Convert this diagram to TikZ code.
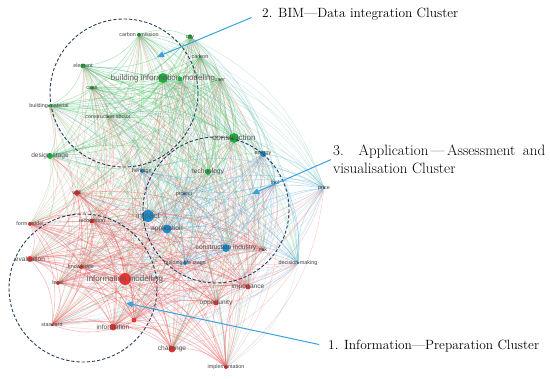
\documentclass[tikz,border=0pt]{standalone}
\usepackage{fontspec}
\newfontfamily\netfont{Liberation Sans}
\usetikzlibrary{arrows.meta}

\definecolor{vgreen}{RGB}{30,176,62}
\definecolor{vblue}{RGB}{26,140,204}
\definecolor{vred}{RGB}{234,52,50}
\definecolor{callblue}{RGB}{58,160,222}
\definecolor{ringnavy}{RGB}{40,62,92}

\pgfdeclarelayer{back}
\pgfsetlayers{back,main}

% every term with the style of its links
\def\netlist{carbem/gedge, city/gedge, carbon/gedge, bim/gedge, gsmall/gedge,
  user/gedge, element/gedge, case/gedge, bmat/gedge, csector/gedge, constr/gedge,
  dstage/gedge, tech/gedge, energy/bedge, tool/bedge, heritage/bedge,
  project/bedge, impact/bedge, appl/bedge, cind/bedge, bls/bedge, dmaking/bedge,
  price/bedge, wall/redge, fmodel/redge, recog/redge, eval/redge, knowl/redge,
  level/redge, infomod/redge, rsmall/redge, standard/redge, info/redge,
  chall/redge, impl/redge, opp/redge, importance/redge, risk/redge}

\begin{document}
\begin{tikzpicture}[x=1pt, y=-1pt,
    vnode/.style={circle, inner sep=0pt, minimum size=#1},
    gdot/.style={vnode=#1, fill=vgreen},
    bdot/.style={vnode=#1, fill=vblue},
    rdot/.style={vnode=#1, fill=vred},
    word/.style={font=\netfont\fontsize{5.4}{6}\selectfont, text=black!75, inner sep=0pt},
    midword/.style={font=\netfont\fontsize{6.6}{7}\selectfont, text=black!70, inner sep=0pt},
    bigword/.style={font=\netfont\fontsize{8}{9}\selectfont, text=black!65, inner sep=0pt},
    gedge/.style={draw=vgreen!75, opacity=0.28, line width=0.5pt},
    bedge/.style={draw=vblue!70, opacity=0.25, line width=0.5pt},
    redge/.style={draw=vred!80, opacity=0.28, line width=0.5pt},
    inner/.style={opacity=0.42, line width=0.6pt},
    ring/.style={draw=ringnavy, line width=0.9pt, dash pattern=on 3.2pt off 2pt},
    call/.style={draw=callblue, line width=1pt, -{Triangle[length=7pt,width=6pt]}},
    cluster/.style={font=\fontsize{13.4}{18}\selectfont, inner sep=2pt}]

\useasboundingbox (0,0) rectangle (550,379);

% green cluster
\node[gdot=4pt, label={[word]center:carbon emission}] (carbem) at (139,35) {};
\node[gdot=5pt, label={[word]center:city}] (city) at (190,37) {};
\node[gdot=3pt, label={[word]center:carbon}] (carbon) at (200,57) {};
\node[gdot=10pt, label={[bigword]center:building information modeling}] (bim) at (163,78) {};
\node[gdot=5pt] (gsmall) at (180,79) {};
\node[gdot=3pt, label={[word]center:user}] (user) at (220,80) {};
\node[gdot=5pt, label={[word]center:element}] (element) at (83,66) {};
\node[gdot=4pt, label={[word]center:case}] (case) at (92,88) {};
\node[gdot=3pt, label={[word]center:building material}] (bmat) at (49,106) {};
\node[gdot=3pt, label={[word]center:construction sector}] (csector) at (108,117) {};
\node[gdot=10pt, label={[bigword]center:construction}] (constr) at (234,138) {};
\node[gdot=6pt, label={[midword]center:design stage}] (dstage) at (50,156) {};
\node[gdot=6pt, label={[midword]center:technology}] (tech) at (208,172) {};

% blue cluster
\node[bdot=6pt, label={[word]center:energy}] (energy) at (263,154) {};
\node[bdot=3pt, label={[word]center:tool}] (tool) at (275,183) {};
\node[bdot=4pt, label={[word]center:heritage}] (heritage) at (142,171) {};
\node[bdot=3pt, label={[word]center:project}] (project) at (184,194) {};
\node[bdot=12pt, label={[bigword]center:impact}] (impact) at (148,216) {};
\node[bdot=9pt, label={[midword]center:application}] (appl) at (167,229) {};
\node[bdot=8pt, label={[midword]center:construction industry}] (cind) at (226,248) {};
\node[bdot=4pt, label={[word]center:building life stage}] (bls) at (185,263) {};
\node[bdot=3pt, label={[word]center:decision making}] (dmaking) at (298,263) {};
\node[bdot=3pt, label={[word]center:price}] (price) at (324,188) {};

% red cluster
\node[rdot=6pt, label={[word]center:wall}] (wall) at (77,193) {};
\node[rdot=4pt, label={[word]center:form model}] (fmodel) at (30,224) {};
\node[rdot=5pt, label={[word]center:recognition}] (recog) at (92,221) {};
\node[rdot=6pt, label={[midword]center:evaluation}] (eval) at (30,259) {};
\node[rdot=4pt, label={[word]center:knowledge}] (knowl) at (81,267) {};
\node[rdot=4pt, label={[word]center:level}] (level) at (58,283) {};
\node[rdot=12pt, label={[bigword]center:information modelling}] (infomod) at (125,279) {};
\node[rdot=5pt] (rsmall) at (134,320) {};
\node[rdot=3pt, label={[word]center:standard}] (standard) at (52,325) {};
\node[rdot=7pt, label={[midword]center:information}] (info) at (113,327) {};
\node[rdot=7pt, label={[midword]center:challenge}] (chall) at (172,349) {};
\node[rdot=4pt, label={[word]center:implementation}] (impl) at (226,367) {};
\node[rdot=5pt, label={[midword]center:opportunity}] (opp) at (216,303) {};
\node[rdot=5pt, label={[midword]center:importance}] (importance) at (248,287) {};
\node[rdot=3pt, label={[word]center:risk}] (risk) at (263,250) {};

% links
\begin{pgfonlayer}{back}
\foreach \a/\ca [count=\i] in \netlist {
  \foreach \b/\cb [count=\j] in \netlist {
    \ifnum\j>\i
      \edef\ea{\ca}\edef\eb{\cb}
      \ifx\ea\eb
        \draw[\ea, inner] (\a) to[bend left=22] (\b);
      \else
        \ifodd\numexpr\i+\j\relax \edef\ec{\ca}\else\edef\ec{\cb}\fi
        \draw[\ec] (\a) to[bend left=22] (\b);
      \fi
    \fi
  }
}
\end{pgfonlayer}

% cluster rings
\draw[ring] (124,93) circle[radius=74];
\draw[ring] (216,210) circle[radius=73];
\draw[ring] (83,288) circle[radius=74];

% cluster names
\node[cluster, anchor=west] (lab2) at (260,14) {2. BIM---Data integration Cluster};
\node[cluster, font=\fontsize{15}{18}\selectfont, anchor=north west, text width=212pt,
  align=justify] (lab3) at (331,143)
  {3. Application\,---\,Assessment and\linebreak visualisation Cluster};
\node[cluster, anchor=west] (lab1) at (326,346) {1. Information---Preparation Cluster};

\coordinate (tip2) at (157,57);
\coordinate (tip3) at (252,194);
\coordinate (tip1) at (126,303);

\draw[call, shorten <=9pt] (lab2.west) -- (tip2);
\draw[call] (lab3.west) -- (tip3);
\draw[call, shorten <=7pt] (lab1.west) -- (tip1);
\end{tikzpicture}
\end{document}
